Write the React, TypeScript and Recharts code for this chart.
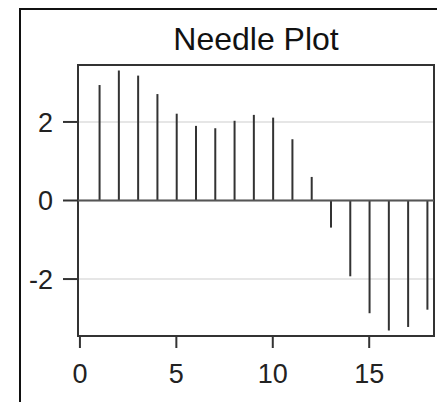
import React from "react";
import {
    ComposedChart,
    Bar,
    CartesianGrid,
    ReferenceArea,
    ReferenceLine,
    XAxis,
    YAxis,
} from "recharts";

// needle positions and heights
const xValues = [1, 2, 3, 4, 5, 6, 7, 8, 9, 10, 11, 12, 13, 14, 15, 16, 17, 18];
const yValues = [
    2.94, 3.31, 3.18, 2.71, 2.21, 1.9, 1.84, 2.03, 2.18, 2.11, 1.56, 0.6, -0.69, -1.93,
    -2.87, -3.31, -3.22, -2.78,
];
const xTicks = [0, 5, 10, 15];
const yTicks = [-2, 0, 2];

const X_DOMAIN: [number, number] = [-0.1, 18.36];
const Y_DOMAIN: [number, number] = [-3.45, 3.45];

const FONT = "'Liberation Sans', Arial, Helvetica, sans-serif";
const INK = "#333333";

const data = xValues.map((x, i) => ({ x, y: yValues[i] }));

export default function App() {
    return (
        <div
            style={{
                position: "absolute",
                left: 0,
                top: 0,
                width: 437,
                height: 402,
                overflow: "hidden",
                background: "#ffffff",
                fontFamily: FONT,
            }}
        >
            {/* outer frame, cut off at the right and bottom like the source */}
            <div
                style={{
                    position: "absolute",
                    left: 19,
                    top: 8,
                    width: 600,
                    height: 600,
                    borderLeft: "2px solid #111",
                    borderTop: "2px solid #111",
                }}
            />
            <div
                style={{
                    position: "absolute",
                    left: 78,
                    top: 23,
                    width: 356,
                    textAlign: "center",
                    fontSize: 32,
                    lineHeight: "32px",
                    color: "#111",
                }}
            >
                Needle Plot
            </div>
            <div style={{ position: "absolute", left: 0, top: 0 }}>
                <ComposedChart
                    width={437}
                    height={402}
                    data={data}
                    margin={{ top: 65, right: 3, bottom: 6, left: 0 }}
                >
                    <CartesianGrid
                        horizontal
                        vertical={false}
                        stroke="#e6e6e6"
                        strokeWidth={2}
                    />
                    <XAxis
                        dataKey="x"
                        type="number"
                        domain={X_DOMAIN}
                        ticks={xTicks}
                        allowDataOverflow
                        height={60}
                        axisLine={false}
                        tickSize={12}
                        tickMargin={16}
                        tickLine={{ stroke: INK, strokeWidth: 2 }}
                        tick={{ fill: "#222", fontSize: 27, fontFamily: FONT }}
                    />
                    <YAxis
                        type="number"
                        domain={Y_DOMAIN}
                        ticks={yTicks}
                        allowDataOverflow
                        width={78}
                        axisLine={false}
                        tickSize={15}
                        tickMargin={10}
                        tickLine={{ stroke: INK, strokeWidth: 2 }}
                        tick={{ fill: "#222", fontSize: 27, fontFamily: FONT }}
                    />
                    <ReferenceLine y={0} stroke="#555" strokeWidth={2} />
                    <Bar dataKey="y" barSize={2} fill={INK} isAnimationActive={false} />
                    <ReferenceArea
                        x1={X_DOMAIN[0]}
                        x2={X_DOMAIN[1]}
                        y1={Y_DOMAIN[0]}
                        y2={Y_DOMAIN[1]}
                        fill="none"
                        stroke={INK}
                        strokeWidth={2}
                        ifOverflow="extendDomain"
                    />
                </ComposedChart>
            </div>
        </div>
    );
}
